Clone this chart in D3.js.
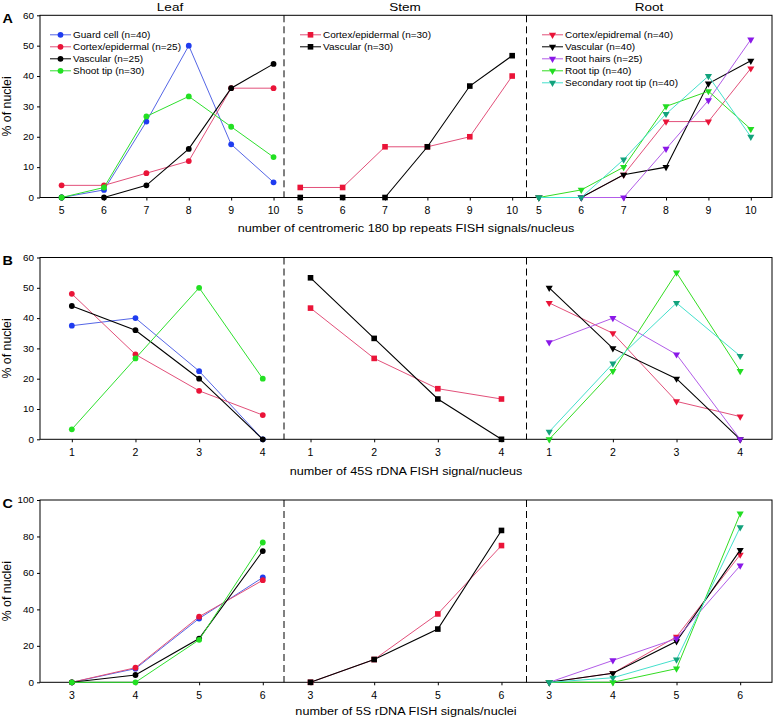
<!DOCTYPE html>
<html><head><meta charset="utf-8">
<script src="https://cdn.jsdelivr.net/npm/d3@7"></script>
<style>body{margin:0;background:#fff}svg{display:block}</style>
</head><body><svg id="c" width="774" height="721"></svg>
<script>
// ---------------- data ----------------
const sectionNames = ["Leaf", "Stem", "Root"];
const xA = [5, 6, 7, 8, 9, 10];
const xB = [1, 2, 3, 4];
const xC = [3, 4, 5, 6];
const yTicksAB = [0, 10, 20, 30, 40, 50, 60];
const yTicksC = [0, 20, 40, 60, 80, 100];
const xTitles = [
  "number of centromeric 180 bp repeats FISH signals/nucleus",
  "number of 45S rDNA FISH signal/nucleus",
  "number of 5S rDNA FISH signals/nuclei"
];
const panelLetters = ["A", "B", "C"];
const yTitle = "% of nuclei";

const leafLabels = ["Guard cell (n=40)", "Cortex/epidermal (n=25)", "Vascular (n=25)", "Shoot tip (n=30)"];
const stemLabels = ["Cortex/epidermal (n=30)", "Vascular (n=30)"];
const rootLabels = ["Cortex/epidremal (n=40)", "Vascular (n=40)", "Root hairs (n=25)", "Root tip (n=40)", "Secondary root tip (n=40)"];

// Panel A: centromeric 180 bp repeats
const A_leafGuard    = [0, 2.5, 25, 50, 17.5, 5];
const A_leafCortex   = [4, 4, 8, 12, 36, 36];
const A_leafVascular = [0, 0, 4, 16, 36, 44];
const A_leafShoot    = [0, 3.3, 26.7, 33.3, 23.3, 13.3];
const A_stemCortex   = [3.3, 3.3, 16.7, 16.7, 20, 40];
const A_stemVascular = [0, 0, 0, 16.7, 36.7, 46.7];
const A_rootCortex   = [0, 0, 7.5, 25, 25, 42.5];
const A_rootVascular = [0, 0, 7.5, 10, 37.5, 45];
const A_rootHairs    = [0, 0, 0, 16, 32, 52];
const A_rootTip      = [0, 2.5, 10, 30, 35, 22.5];
const A_rootSecond   = [0, 0, 12.5, 27.5, 40, 20];

// Panel B: 45S rDNA
const B_leafGuard    = [37.5, 40, 22.5, 0];
const B_leafCortex   = [48, 28, 16, 8];
const B_leafVascular = [44, 36, 20, 0];
const B_leafShoot    = [3.3, 26.7, 50, 20];
const B_stemCortex   = [43.3, 26.7, 16.7, 13.3];
const B_stemVascular = [53.3, 33.3, 13.3, 0];
const B_rootCortex   = [45, 35, 12.5, 7.5];
const B_rootVascular = [50, 30, 20, 0];
const B_rootHairs    = [32, 40, 28, 0];
const B_rootTip      = [0, 22.5, 55, 22.5];
const B_rootSecond   = [2.5, 25, 45, 27.5];

// Panel C: 5S rDNA
const C_leafGuard    = [0, 7.5, 35, 57.5];
const C_leafCortex   = [0, 8, 36, 56];
const C_leafVascular = [0, 4, 24, 72];
const C_leafShoot    = [0, 0, 23.3, 76.7];
const C_stemCortex   = [0, 12.5, 37.5, 75];
const C_stemVascular = [0, 12.5, 29.2, 83.3];
const C_rootCortex   = [0, 5, 25, 70];
const C_rootVascular = [0, 5, 22.5, 72.5];
const C_rootHairs    = [0, 12, 24, 64];
const C_rootTip      = [0, 0, 7.5, 92.5];
const C_rootSecond   = [0, 2.5, 12.5, 85];

// ---------------- styles ----------------
const styles = {
  guard:    {line: "#5566e6", fill: "#1f3cf0"},
  cortex:   {line: "#e2507a", fill: "#ea1438"},
  vascular: {line: "#000000", fill: "#000000"},
  shoot:    {line: "#2ee02e", fill: "#22e022"},
  hairs:    {line: "#b25ce8", fill: "#8a18e8"},
  tip:      {line: "#33dd22", fill: "#22dd22"},
  second:   {line: "#44e0cc", fill: "#13a27c"}
};
const leafKeys = ["guard", "cortex", "vascular", "shoot"];
const stemKeys = ["cortex", "vascular"];
const rootKeys = ["cortex", "vascular", "hairs", "tip", "second"];
const groupShapes = ["circle", "square", "triangle"];

const panels = [
  {xs: xA, yMax: 60, yTicks: yTicksAB, top: 15.3, bottom: 197.5, padL: 0.51, gap: 0.63, padR: 0.5,
   groups: [[A_leafGuard, A_leafCortex, A_leafVascular, A_leafShoot], [A_stemCortex, A_stemVascular],
            [A_rootCortex, A_rootVascular, A_rootHairs, A_rootTip, A_rootSecond]],
   titleY: 231.5, legend: true},
  {xs: xB, yMax: 60, yTicks: yTicksAB, top: 257.5, bottom: 439.3, padL: 0.5, gap: 0.75, padR: 0.5,
   groups: [[B_leafGuard, B_leafCortex, B_leafVascular, B_leafShoot], [B_stemCortex, B_stemVascular],
            [B_rootCortex, B_rootVascular, B_rootHairs, B_rootTip, B_rootSecond]],
   titleY: 474.7, legend: false},
  {xs: xC, yMax: 100, yTicks: yTicksC, top: 500, bottom: 682.3, padL: 0.5, gap: 0.75, padR: 0.5,
   groups: [[C_leafGuard, C_leafCortex, C_leafVascular, C_leafShoot], [C_stemCortex, C_stemVascular],
            [C_rootCortex, C_rootVascular, C_rootHairs, C_rootTip, C_rootSecond]],
   titleY: 715.3, legend: false}
];
const groupKeys = [leafKeys, stemKeys, rootKeys];
const groupLabels = [leafLabels, stemLabels, rootLabels];

// ---------------- layout ----------------
const X0 = 40, X1 = 772;
const dividers = [284, 526.5];
const FONT = "'Liberation Sans', Arial, Helvetica, sans-serif";
const SX = 1.15; // horizontal stretch of the original figure's text

const svg = d3.select("#c");

function stext(g, x, y, str, size, anchor, opts = {}) {
  const t = g.append("text")
    .attr("transform", `translate(${x},${y}) scale(${opts.sx ?? SX},1)`)
    .attr("text-anchor", anchor)
    .attr("font-family", FONT)
    .attr("font-size", size)
    .attr("fill", "#000")
    .text(str);
  if (opts.bold) t.attr("font-weight", "bold");
  return t;
}

function marker(sel, shape, fill) {
  if (shape === "circle") {
    sel.append("circle").attr("r", 2.9).attr("fill", fill);
  } else if (shape === "square") {
    sel.append("rect").attr("x", -2.8).attr("y", -2.8).attr("width", 5.6).attr("height", 5.6).attr("fill", fill);
  } else {
    sel.append("path").attr("d", d3.symbol(d3.symbolTriangle, 22)()).attr("transform", "rotate(180)").attr("fill", fill);
  }
}

panels.forEach((p, pi) => {
  const n = p.xs.length;
  const total = p.padL + 3 * (n - 1) + 2 * p.gap + p.padR;
  const x = d3.scaleLinear().domain([0, total]).range([X0, X1]);
  const pos = (g, i) => p.padL + g * (n - 1 + p.gap) + i;
  const y = d3.scaleLinear().domain([0, p.yMax]).range([p.bottom, p.top]);
  const g = svg.append("g");

  // x axis
  const tickPos = [], tickLab = new Map();
  for (let gi = 0; gi < 3; gi++) p.xs.forEach((v, i) => { tickPos.push(pos(gi, i)); tickLab.set(pos(gi, i), v); });
  const xa = g.append("g").attr("transform", `translate(0,${p.bottom})`)
    .call(d3.axisBottom(x).tickValues(tickPos).tickFormat(d => tickLab.get(d)).tickSize(3).tickSizeOuter(0));
  xa.select(".domain").remove();
  xa.selectAll(".tick line").attr("stroke", "#000");
  xa.selectAll(".tick text").remove();
  tickPos.forEach(t => stext(g, x(t), p.bottom + 16.7, tickLab.get(t), 10.5, "middle", {sx: 1}));

  // y axis
  const ya = g.append("g").attr("transform", `translate(${X0},0)`)
    .call(d3.axisLeft(y).tickValues(p.yTicks).tickSize(3).tickSizeOuter(0));
  ya.select(".domain").remove();
  ya.selectAll(".tick line").attr("stroke", "#000");
  ya.selectAll(".tick text").remove();
  p.yTicks.forEach(t => stext(g, X0 - 6, y(t) + 3.2, t, 9, "end", {sx: 1.1}));

  // frame
  g.append("rect").attr("x", X0).attr("y", p.top).attr("width", X1 - X0).attr("height", p.bottom - p.top)
    .attr("fill", "none").attr("stroke", "#000").attr("stroke-width", 1);

  // dividers
  dividers.forEach(d => g.append("line").attr("x1", d).attr("x2", d).attr("y1", p.top).attr("y2", p.bottom)
    .attr("stroke", "#000").attr("stroke-width", 1).attr("stroke-dasharray", "7,4"));

  // series
  p.groups.forEach((series, gi) => {
    series.forEach((vals, si) => {
      const st = styles[groupKeys[gi][si]];
      const pts = vals.map((v, i) => [x(pos(gi, i)), y(v)]);
      g.append("path").attr("d", d3.line()(pts)).attr("fill", "none")
        .attr("stroke", st.line).attr("stroke-width", groupKeys[gi][si] === "vascular" ? 1.1 : 1);
      pts.forEach(pt => {
        const m = g.append("g").attr("transform", `translate(${pt[0]},${pt[1]})`);
        marker(m, groupShapes[gi], st.fill);
      });
    });
  });

  // legends
  if (p.legend) {
    const legX = [50, 300, 542];
    groupLabels.forEach((labels, gi) => {
      labels.forEach((lab, li) => {
        const st = styles[groupKeys[gi][li]];
        const ly = p.top + 19.5 + li * 12;
        g.append("line").attr("x1", legX[gi]).attr("x2", legX[gi] + 21).attr("y1", ly).attr("y2", ly)
          .attr("stroke", st.line).attr("stroke-width", 1);
        const m = g.append("g").attr("transform", `translate(${legX[gi] + 10.5},${ly})`);
        marker(m, groupShapes[gi], st.fill);
        stext(g, legX[gi] + 23, ly + 3.2, lab, 8.7, "start");
      });
    });
    // section titles
    const titleX = [170, 405, 649];
    sectionNames.forEach((s, i) => stext(g, titleX[i], 11, s, 11.8, "middle"));
  }

  // x title
  stext(g, (X0 + X1) / 2, p.titleY, xTitles[pi], 11, "middle");

  // y title
  g.append("text").attr("transform", `translate(11,${(p.top + p.bottom) / 2}) rotate(-90)`)
    .attr("text-anchor", "middle").attr("font-family", FONT).attr("font-size", 12.3).text(yTitle);

  // panel letter
  stext(g, 2.5, p.top + 7.5, panelLetters[pi], 12.5, "start", {bold: true});
});
</script></body></html>
